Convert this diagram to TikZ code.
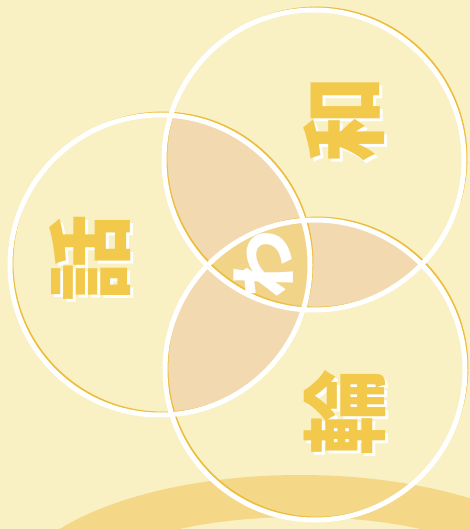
\documentclass[tikz,border=0pt]{standalone}
\usepackage{fontspec}
\newfontfamily\cjk{Noto Sans CJK JP}
\definecolor{paper}{HTML}{F9F0C3}
\definecolor{lens}{HTML}{F3D9B0}
\definecolor{core}{HTML}{F2D489}
\definecolor{edge}{HTML}{ECBE3C}
\definecolor{band}{HTML}{F4D888}
\definecolor{kanjiyellow}{HTML}{F2C94A}
\tikzset{
  ring/.style={draw=white,line width=5pt},
  ringedge/.style={draw=edge,line width=1.8pt},
  kanji/.style={font=\cjk\bfseries\fontsize{86}{86}\selectfont,text=kanjiyellow,rotate=90,inner sep=0pt},
  kanjishade/.style={kanji,text=white}
}
\begin{document}
\begin{tikzpicture}[x=1pt,y=-1pt]
\fill[paper] (0,0) rectangle (470,529);
\useasboundingbox (0,0) rectangle (470,529);
\coordinate (ctop) at (314,160);
\coordinate (cleft) at (160,265);
\coordinate (cbottom) at (315,370);
% band at the foot
\begin{scope}
  \clip (0,0) rectangle (470,529);
  \fill[band] (300,600) ellipse[x radius=292,y radius=125];
  \fill[paper] (300,600) ellipse[x radius=232,y radius=83];
\end{scope}
% overlaps
\begin{scope}
  \clip (ctop) circle[radius=150];
  \fill[lens] (cleft) circle[radius=150];
  \fill[lens] (cbottom) circle[radius=150];
\end{scope}
\begin{scope}
  \clip (cleft) circle[radius=150];
  \fill[lens] (cbottom) circle[radius=150];
\end{scope}
\begin{scope}
  \clip (ctop) circle[radius=150];
  \clip (cleft) circle[radius=150];
  \fill[core] (cbottom) circle[radius=150];
\end{scope}
\foreach \c in {ctop,cleft,cbottom}
  \draw[ringedge] ([shift={(2.5,-2.5)}]\c) circle[radius=150];
\foreach \c in {ctop,cleft,cbottom}
  \draw[ring] (\c) circle[radius=150];
% characters
\node[kanjishade] (wa-s) at (347,123) {和};
\node[kanji] (wa) at (344,120) {和};
\node[kanjishade] (hanashi-s) at (93,261) {話};
\node[kanji] (hanashi) at (90,258) {話};
\node[kanjishade] (rin-s) at (348,415) {輪};
\node[kanji] (rin) at (345,412) {輪};
\node[kanji,text=white,font=\cjk\bfseries\fontsize{68}{68}\selectfont] (hira) at (264,264) {わ};
\end{tikzpicture}
\end{document}
